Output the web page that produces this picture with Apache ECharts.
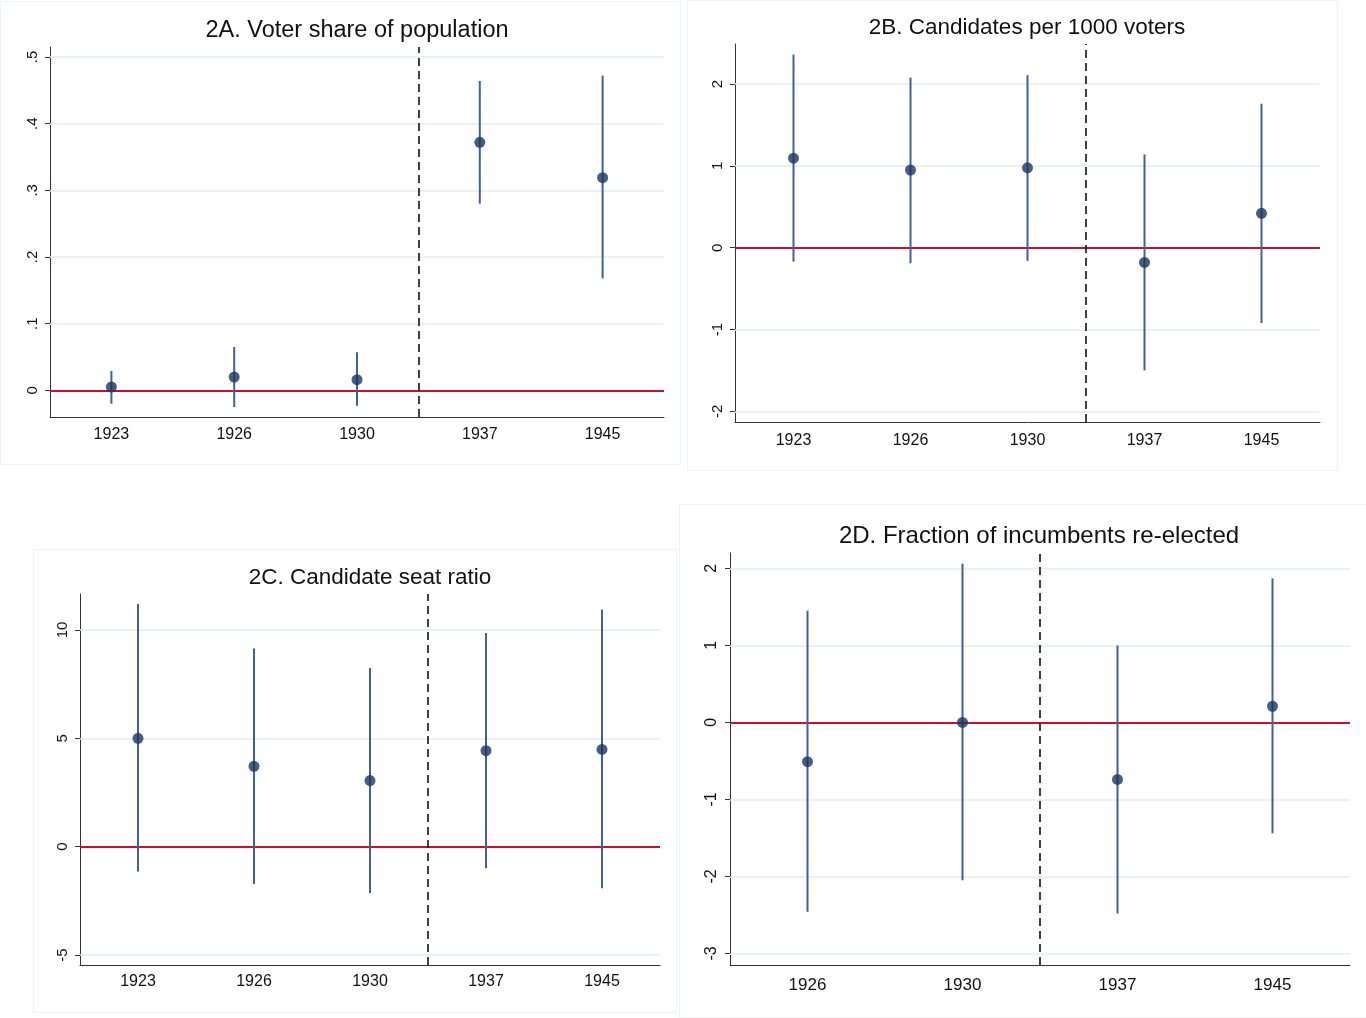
<!DOCTYPE html>
<html>
<head>
<meta charset="utf-8">
<title>Figure 2</title>
<script src="https://cdn.jsdelivr.net/npm/echarts@6/dist/echarts.min.js"></script>
<style>
  html, body { margin: 0; padding: 0; background: #fff; }
  #chart { width: 1366px; height: 1018px; }
</style>
</head>
<body>
<div id="chart"></div>
<script>
// categories
var yearsABC = ['1923', '1926', '1930', '1937', '1945'];
var yearsD = ['1926', '1930', '1937', '1945'];

// 2A voter share of population
var voterEst = [0.005, 0.020, 0.016, 0.372, 0.319];
var voterLow = [-0.020, -0.025, -0.023, 0.280, 0.168];
var voterHigh = [0.029, 0.065, 0.057, 0.464, 0.472];
var voterTicks = [0, 0.1, 0.2, 0.3, 0.4, 0.5];

// 2B candidates per 1000 voters
var candEst = [1.095, 0.95, 0.977, -0.18, 0.42];
var candLow = [-0.17, -0.19, -0.16, -1.50, -0.92];
var candHigh = [2.36, 2.08, 2.11, 1.14, 1.76];
var candTicks = [-2, -1, 0, 1, 2];

// 2C candidate seat ratio
var ratioEst = [5.0, 3.71, 3.05, 4.43, 4.49];
var ratioLow = [-1.15, -1.72, -2.14, -1.0, -1.92];
var ratioHigh = [11.2, 9.15, 8.25, 9.86, 10.94];
var ratioTicks = [-5, 0, 5, 10];

// 2D fraction of incumbents re-elected
var incEst = [-0.51, 0.0, -0.74, 0.21];
var incLow = [-2.46, -2.05, -2.48, -1.44];
var incHigh = [1.45, 2.06, 1.0, 1.87];
var incTicks = [-3, -2, -1, 0, 1, 2];

var FONT = '"Liberation Sans", Arial, Helvetica, sans-serif';
var NAVY = '#1a365f';
var BAR = '#41628e';
var RED = '#c8102e';
var GRID = '#e6eeee';

var panels = [
  { title: '2A. Voter share of population', titleX: 357, titleY: 19, titleSize: 23.5,
    grid: { left: 50, top: 47, width: 614, height: 370 },
    cats: yearsABC, est: voterEst, low: voterLow, high: voterHigh, ticks: voterTicks,
    min: -0.04, max: 0.515, cut: 3, labelSize: 16, xMargin: 10,
    fmt: function (v) { return v === 0 ? '0' : String(+v.toFixed(1)).replace(/^0/, ''); } },
  { title: '2B. Candidates per 1000 voters', titleX: 1027, titleY: 16, titleSize: 22.5,
    grid: { left: 735, top: 44, width: 585, height: 378 },
    cats: yearsABC, est: candEst, low: candLow, high: candHigh, ticks: candTicks,
    min: -2.13, max: 2.49, cut: 3, labelSize: 16, xMargin: 11,
    fmt: function (v) { return String(v); } },
  { title: '2C. Candidate seat ratio', titleX: 370, titleY: 566, titleSize: 22.5,
    grid: { left: 80, top: 594, width: 580, height: 371 },
    cats: yearsABC, est: ratioEst, low: ratioLow, high: ratioHigh, ticks: ratioTicks,
    min: -5.46, max: 11.66, cut: 3, labelSize: 16, xMargin: 9,
    fmt: function (v) { return String(v); } },
  { title: '2D. Fraction of incumbents re-elected', titleX: 1039, titleY: 524, titleSize: 24,
    grid: { left: 730, top: 553, width: 620, height: 412 },
    cats: yearsD, est: incEst, low: incLow, high: incHigh, ticks: incTicks,
    min: -3.15, max: 2.2, cut: 2, labelSize: 17, xMargin: 12,
    fmt: function (v) { return String(v); } }
];

var option = {
  backgroundColor: '#fff',
  animation: false,
  title: [],
  grid: [],
  xAxis: [],
  yAxis: [],
  series: [],
  graphic: [
    // faint panel frames
    { type: 'rect', shape: { x: 0.5, y: 1.5, width: 680, height: 463 }, style: { fill: null, stroke: '#eef3f4', lineWidth: 1 } },
    { type: 'rect', shape: { x: 687.5, y: 0.5, width: 650, height: 470 }, style: { fill: null, stroke: '#eef3f4', lineWidth: 1 } },
    { type: 'rect', shape: { x: 33.5, y: 549.5, width: 643, height: 463 }, style: { fill: null, stroke: '#eef3f4', lineWidth: 1 } },
    { type: 'rect', shape: { x: 679.5, y: 504.5, width: 690, height: 513 }, style: { fill: null, stroke: '#eef3f4', lineWidth: 1 } }
  ]
};

panels.forEach(function (p, i) {
  option.title.push({
    text: p.title, left: p.titleX, top: p.titleY, textAlign: 'center', padding: 0,
    textStyle: { fontFamily: FONT, fontSize: p.titleSize, fontWeight: 'normal', color: '#111' }
  });
  option.grid.push(p.grid);

  // category axis for the estimates
  option.xAxis.push({
    type: 'category', gridIndex: i, data: p.cats, boundaryGap: true,
    axisLine: { onZero: false, lineStyle: { color: '#333', width: 1 } },
    axisTick: { alignWithLabel: true, length: 5, lineStyle: { color: '#333' } },
    axisLabel: { fontFamily: FONT, fontSize: p.labelSize, color: '#111', margin: p.xMargin },
    splitLine: { show: false }
  });
  // hidden value axis, used only for the dashed break line
  option.xAxis.push({
    type: 'value', gridIndex: i, min: 0, max: p.cats.length, show: false
  });

  option.yAxis.push({
    type: 'value', gridIndex: i, min: p.min, max: p.max,
    axisLine: { show: true, onZero: false, lineStyle: { color: '#333', width: 1 } },
    axisTick: { show: true, length: 5, customValues: p.ticks, lineStyle: { color: '#333' } },
    axisLabel: { customValues: p.ticks, rotate: 90, margin: 10, fontFamily: FONT,
                 fontSize: p.labelSize - 1, color: '#111', formatter: p.fmt },
    splitLine: { show: false }
  });

  var catX = i * 2, valX = i * 2 + 1;

  // gridlines + red zero line
  var refLines = p.ticks.filter(function (t) { return t !== 0; }).map(function (t) {
    return { yAxis: t, lineStyle: { color: GRID, width: 1.5, type: 'solid' } };
  });
  refLines.push({ yAxis: 0, lineStyle: { color: RED, width: 2, type: 'solid' } });
  option.series.push({
    type: 'line', xAxisIndex: catX, yAxisIndex: i, data: [], z: 1,
    markLine: { silent: true, z: 1, symbol: 'none', label: { show: false }, data: refLines }
  });

  // dashed vertical break
  option.series.push({
    type: 'line', xAxisIndex: valX, yAxisIndex: i, data: [], z: 2,
    markLine: { silent: true, z: 2, symbol: 'none', label: { show: false },
      lineStyle: { color: '#111', width: 1.6, type: [8, 5] },
      data: [{ xAxis: p.cut }] }
  });

  // confidence intervals
  option.series.push({
    type: 'custom', xAxisIndex: catX, yAxisIndex: i, z: 4,
    data: p.cats.map(function (c, k) { return [k, p.low[k], p.high[k]]; }),
    renderItem: function (params, api) {
      var a = api.coord([api.value(0), api.value(1)]);
      var b = api.coord([api.value(0), api.value(2)]);
      return { type: 'line', shape: { x1: a[0], y1: a[1], x2: b[0], y2: b[1] },
               style: { stroke: BAR, lineWidth: 2 } };
    }
  });

  // point estimates
  option.series.push({
    type: 'scatter', xAxisIndex: catX, yAxisIndex: i, z: 5,
    symbolSize: 11, itemStyle: { color: NAVY },
    data: p.est.map(function (v, k) { return [k, v]; })
  });
});

var chart = echarts.init(document.getElementById('chart'));
chart.setOption(option);
window.addEventListener('resize', function () { chart.resize(); });
</script>
</body>
</html>
